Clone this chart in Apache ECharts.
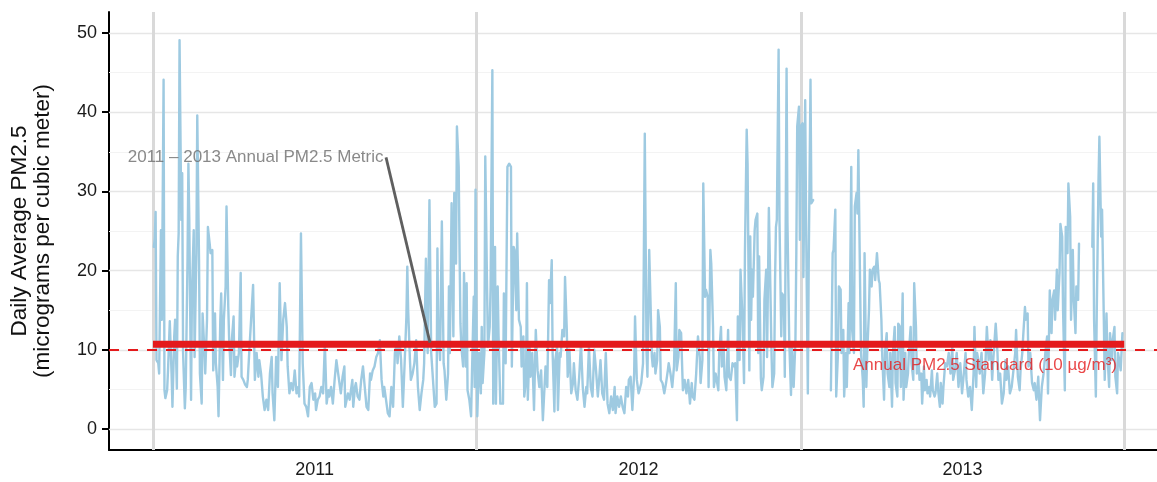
<!DOCTYPE html>
<html>
<head>
<meta charset="utf-8">
<script src="https://cdn.jsdelivr.net/npm/echarts@6/dist/echarts.min.js"></script>
<style>
html,body{margin:0;padding:0;background:#fff;}
#chart{width:1157px;height:482px;}
</style>
</head>
<body>
<div id="chart"></div>
<script>
// Daily average PM2.5, [day of year (0 = 1 January), µg/m³]; null marks a break in the record
const pm2011 = [
[1,23.0],[2,24.0],[3,27.4],[4,8.7],[6,8.3],[7,7.0],[9,25.1],[10,13.8],[12,44.1],[13,4.9],[14,3.9],[16,4.9],[17,7.4],[19,13.6],[21,7.0],[22,2.8],[24,11.7],[25,13.8],[27,5.1],[28,21.8],[29,24.7],[30,49.1],[32,26.4],[33,32.3],[34,9.6],[36,2.6],[37,5.3],[39,21.3],[40,33.5],[41,26.4],[43,3.7],[44,17.1],[46,25.1],[47,9.1],[49,22.2],[50,39.6],[52,21.3],[53,7.0],[55,3.2],[56,14.6],[58,10.0],[59,7.0],[61,13.8],[62,25.5],[64,23.4],[65,22.2],[67,22.6],[68,7.4],[70,14.6],[71,8.3],[73,5.3],[74,1.6],[76,13.8],[77,17.1],[79,6.2],[80,13.8],[82,18.0],[83,28.1],[85,15.4],[86,11.2],[88,6.8],[89,11.2],[91,14.2],[92,6.6],[94,9.1],[95,7.9],[97,9.6],[99,19.7],[100,6.6],[102,6.2],[104,5.6],[106,5.3],[107,6.2],
[109,10.4],[113,18.2],[115,6.2],[117,9.6],[119,6.6],[120,8.7],[122,7.0],[124,4.1],[126,2.4],[128,3.7],[130,2.4],[132,7.0],[134,9.1],[135,4.5],[137,1.1],[139,9.1],[141,5.3],[143,18.4],[145,8.7],[147,13.8],[149,15.9],[151,12.9],[152,7.9],[154,4.5],[156,5.8],[158,4.9],[160,7.4],[162,4.5],[164,5.3],[165,4.1],[167,24.7],[169,8.3],[171,3.2],[173,2.8],[175,1.6],[177,5.3],[179,5.8],[181,3.7],[183,4.5],[184,2.4],[186,3.7],[188,4.1],[190,5.3],[192,4.5],[194,10.8],[196,3.2],[198,4.9],[199,4.1],[201,5.3],[203,3.2],[205,6.2],[207,8.7],[209,7.0],[212,4.5],[214,6.6],[216,7.9],[217,2.8],[220,4.5],
[222,3.7],[225,6.2],[226,2.8],[228,5.3],[229,5.8],[231,4.1],[233,3.7],[235,6.2],[237,7.9],[239,5.3],[241,2.8],[243,2.4],[245,7.0],[246,6.2],[248,7.4],[250,7.9],[252,9.1],[254,9.6],[256,11.2],[258,6.2],[260,4.1],[261,5.3],[263,3.7],[265,2.0],[267,1.6],[269,5.3],[271,2.8],[273,9.6],[275,10.8],[276,8.3],[278,11.7],[280,8.7],[282,2.8],[284,8.3],[286,14.2],[287,20.5],[288,15.0],[290,8.7],[291,6.2],[293,7.0],[295,8.3],[297,11.2],[299,5.3],[301,2.4],[303,4.5],[305,6.2],[306,8.3],[308,21.5],[310,9.6],[312,28.9],[314,9.6],[316,6.2],[318,2.8],[320,3.2],[321,22.8],[322,12.1],[324,8.7],[326,26.2],[328,8.3],[329,7.4],[331,3.7],[333,7.0],[334,18.0],
[335,9.6],[337,28.5],[339,11.7],[340,29.8],[342,20.9],[343,38.2],[345,33.1],[346,22.2],[347,13.3],[348,10.4],[350,7.9],[351,19.7],[353,7.9],[354,18.4],[355,4.9],[357,3.7],[359,1.6],[360,7.0],[362,16.7],[363,5.3],[364,30.2]
];
const pm2012 = [
[1,1.6],[3,9.6],[5,4.5],[6,12.9],[7,5.8],[9,9.6],[10,34.4],[12,18.0],[13,10.4],[15,12.9],[16,18.0],[18,45.3],[19,3.2],[21,23.0],[22,3.2],[24,18.0],[25,11.7],[27,3.2],[28,3.2],[30,3.2],[31,17.1],[33,8.3],[35,33.1],[37,33.5],[39,33.1],[40,7.9],[42,23.0],[43,22.6],[45,15.0],[46,24.7],[48,13.8],[50,12.9],[51,7.9],[53,11.7],[54,4.1],[56,6.2],[57,18.4],[58,3.7],[60,10.4],[61,6.6],[63,9.6],[65,2.4],[67,12.5],[69,7.4],[71,5.3],[73,7.4],[75,1.1],[77,1.1],[78,7.9],[80,5.3],[82,18.8],
[83,15.9],[85,21.3],[86,9.6],[88,2.2],[89,8.7],[91,10.4],[92,2.4],[94,9.6],[95,9.1],[97,12.5],[99,11.7],[100,19.2],[102,12.5],[103,6.6],[105,10.0],[107,4.5],[109,5.8],[110,8.3],[112,4.9],[114,3.7],[116,6.6],[118,10.8],[120,5.3],[122,2.8],[124,5.3],[125,4.5],[127,10.4],[129,5.3],[131,4.1],[133,10.0],[135,7.4],[137,4.1],[139,7.0],[140,8.7],[142,4.5],[144,3.7],[146,9.6],[148,3.2],[150,2.0],[152,4.1],[154,2.4],[156,5.3],[157,2.0],[159,4.1],[161,2.8],[163,4.1],[165,2.8],[167,2.0],[169,5.3],[171,4.1],[172,6.2],[174,6.6],[176,2.4],[178,7.0],[179,14.2],[181,6.2],[183,4.5],[184,4.9],[186,5.8],[188,8.3],[190,37.3],[192,9.6],[193,6.6],[195,22.6],
[198,9.1],[199,7.9],[201,9.6],[202,7.0],[204,8.7],[205,15.0],[207,12.9],[208,6.2],[210,5.8],[212,4.5],[214,5.8],[216,7.4],[217,8.3],[219,7.0],[221,5.3],[223,7.9],[225,18.4],[226,7.4],[228,9.1],[229,12.5],[231,12.1],[233,4.9],[235,6.2],[237,4.5],[239,6.2],[241,3.2],[243,5.8],[244,4.1],[246,3.7],[248,7.0],[250,11.7],[252,9.1],[253,5.8],[255,8.7],[256,31.0],[258,16.7],[259,17.6],[261,16.7],[262,5.3],[264,22.6],[265,20.9],[267,12.9],[268,5.3],[270,7.0],[271,7.0],[273,4.9],[274,9.6],[276,12.9],[277,7.9],[279,10.4],[280,6.6],[282,4.9],[284,12.5],[285,6.6],[287,6.2],[289,8.3],[291,7.9],[292,8.3],[294,1.1],[295,14.2],[297,8.7],[298,20.1],[300,14.6],[302,5.8],[303,22.2],[305,37.8],[306,33.5],[308,7.4],
[309,24.3],[310,13.8],[311,20.1],[312,16.7],[314,25.1],[315,26.4],[317,27.2],[318,9.6],[319,21.8],[321,6.4],[322,4.9],[324,6.6],[325,16.3],[327,20.1],[328,9.1],[330,27.9],[331,22.2],[333,9.6],[334,5.3],[336,7.0],[337,18.8],[338,25.5],[339,26.4],[341,47.9],[342,26.4],[344,11.7],[345,17.1],[347,16.7],[348,6.6],[350,45.5],[351,26.0],[353,11.2],[355,4.3],[356,10.8],[358,5.3],[360,11.2],[361,22.2],[362,38.2],[364,40.7],[365,23.9]
];
const pm2013 = [
[0,38.2],[2,38.6],[3,19.2],[5,41.5],[6,26.4],[8,4.5],[9,20.9],[11,44.1],[12,28.5],[14,28.9],[24,null],[34,4.9],[36,22.2],[37,22.6],[39,27.7],[40,4.1],[42,9.6],[43,18.0],[45,17.6],[46,9.6],[48,12.5],[49,4.1],[51,9.6],[52,5.3],[54,15.9],
[55,9.6],[57,33.1],[58,12.5],[60,9.6],[61,28.1],[63,29.8],[64,27.2],[65,35.2],[67,18.0],[68,9.6],[70,6.2],[71,2.8],[72,22.2],[74,5.3],[75,9.6],[77,15.0],[78,20.1],[80,18.0],[81,20.1],[83,20.5],[84,18.8],[86,22.2],[88,18.8],[89,18.4],[91,13.8],[92,9.1],[94,3.7],[95,9.6],[97,12.1],[98,7.0],[100,5.3],[101,9.6],[103,2.8],[104,9.6],[106,12.9],[107,5.8],[109,4.1],[110,13.3],[112,12.9],[113,5.3],[115,17.1],[116,3.7],[118,9.6],[119,5.3],[121,7.0],[122,9.6],[124,12.9],[125,8.3],[127,6.2],[128,18.4],[130,12.9],[131,7.0],[133,8.7],[134,6.2],[136,7.0],[137,3.2],[139,7.9],[140,4.9],[142,6.2],[143,4.5],[145,5.3],[146,4.1],[148,7.4],[149,4.9],[151,4.1],[152,4.5],[154,7.0],[155,4.9],[157,2.8],[158,5.8],[160,3.2],[161,5.3],[163,8.3],[165,7.9],
[167,9.6],[169,7.0],[171,10.4],[172,6.2],[174,7.4],[176,9.6],[178,5.3],[180,8.3],[182,4.5],[184,7.0],[186,9.6],[187,6.2],[189,4.1],[191,5.3],[193,2.4],[195,7.0],[196,12.9],[198,5.3],[199,9.6],[201,8.3],[202,7.0],[204,9.6],[206,4.5],[208,7.0],[210,12.9],[212,8.7],[214,11.2],[216,6.2],[217,8.3],[219,11.7],[220,13.3],[222,9.6],[223,6.2],[225,7.0],[227,3.2],[229,4.5],[231,8.7],[232,6.2],[234,7.9],[236,4.5],[238,5.3],[240,7.4],[242,9.6],[243,12.5],[245,6.6],[247,4.9],[248,7.4],[250,9.6],[251,11.7],[253,15.4],[254,13.8],[256,14.6],[257,7.9],[259,9.6],[261,5.8],[263,4.9],[264,5.8],[266,3.7],[268,6.6],[270,1.1],[272,5.3],[274,7.0],[276,9.6],[278,11.7],
[279,4.5],[281,17.5],[283,12.1],[284,16.3],[286,17.5],[287,13.8],[289,20.1],[290,15.0],[292,19.7],[293,25.9],[295,24.3],[296,15.0],[298,4.9],[299,25.5],[301,22.2],[302,31.0],[304,26.8],[305,13.8],[307,22.6],[308,16.7],[310,12.1],[311,18.0],[313,16.3],[314,23.4],[320,null],[329,23.0],[330,31.0],[331,13.8],[333,4.1],[334,14.6],[336,31.4],[337,36.9],[339,24.3],[340,27.7],[342,13.8],[343,6.2],[345,14.6],[346,9.6],[348,5.3],[349,12.1],[351,8.7],[352,11.2],[354,12.9],[355,6.6],[357,4.5],[358,9.6],[360,8.3],[361,7.4],[363,12.1]
];

const years = ['2011', '2012', '2013'];
const yTicks = [0, 10, 20, 30, 40, 50];
const yMinor = [5, 15, 25, 35, 45];
const standard = 10;   // annual PM2.5 standard, µg/m³
const metric = 10.7;   // 2011–2013 annual PM2.5 metric, µg/m³

// Annotation anchors in data units: [days since 1 Jan 2011, µg/m³]
const metricNoteAt = [263, 34.3];
const metricNoteTip = [312.6, 10.9];
const standardNoteAt = [938.9, 8.1];

const FONT = "'Liberation Sans', Arial, Helvetica, sans-serif";
const DAY = 86400000;
const dayOffset = y => (Date.UTC(y, 0, 1) - Date.UTC(2011, 0, 1)) / DAY;
const yearStart = [2011, 2012, 2013, 2014].map(dayOffset);
const yearMid = years.map((_, i) => (yearStart[i] + yearStart[i + 1]) / 2);
const daily = [pm2011, pm2012, pm2013].flatMap((arr, i) =>
  arr.map(([d, v]) => [yearStart[i] + d, v]));

const chart = echarts.init(document.getElementById('chart'), null, { renderer: 'canvas' });

chart.setOption({
  animation: false,
  backgroundColor: '#ffffff',
  textStyle: { fontFamily: FONT },
  grid: { left: 109, right: 0, top: 12, bottom: 32, containLabel: false },
  xAxis: {
    type: 'value',
    min: -49.6,
    max: 1133,
    axisLine: { show: true, onZero: false, lineStyle: { color: '#000', width: 2 } },
    axisTick: { show: false },
    splitLine: { show: false },
    axisLabel: {
      customValues: yearMid,
      formatter: v => years[yearMid.indexOf(v)] || '',
      color: '#1a1a1a',
      fontSize: 18,
      fontFamily: FONT,
      margin: 11
    }
  },
  yAxis: {
    type: 'value',
    min: -2.65,
    max: 52.65,
    axisLine: { show: true, onZero: false, lineStyle: { color: '#000', width: 2 } },
    axisTick: { show: true, customValues: yTicks, length: 7, lineStyle: { color: '#000', width: 2 } },
    axisLabel: { customValues: yTicks, color: '#1a1a1a', fontSize: 18, fontFamily: FONT, margin: 12 },
    splitLine: { show: false }
  },
  graphic: [{
    type: 'text',
    x: 31.5,
    y: 231,
    rotation: Math.PI / 2,
    style: {
      text: 'Daily Average PM2.5\n(micrograms per cubic meter)',
      align: 'center',
      verticalAlign: 'middle',
      fontSize: 22.5,
      fontFamily: FONT,
      lineHeight: 23,
      fill: '#111111'
    }
  }],
  series: [
    {
      // background grid: minor and major horizontal lines, year boundaries
      type: 'line',
      data: [],
      z: 1,
      silent: true,
      markLine: {
        z: 1,
        silent: true,
        symbol: 'none',
        label: { show: false },
        emphasis: { disabled: true },
        data: [
          ...yMinor.map(v => ({ yAxis: v, lineStyle: { color: '#f3f3f3', width: 1, type: 'solid' } })),
          ...yTicks.map(v => ({ yAxis: v, lineStyle: { color: '#e6e6e6', width: 1.3, type: 'solid' } })),
          ...yearStart.map(d => ({ xAxis: d, lineStyle: { color: '#d9d9d9', width: 3, type: 'solid' } }))
        ]
      }
    },
    {
      name: 'Daily PM2.5',
      type: 'line',
      data: daily,
      z: 2,
      showSymbol: false,
      connectNulls: false,
      silent: true,
      lineStyle: { color: '#9ecae1', width: 2.4, join: 'round', cap: 'round' }
    },
    {
      // annual standard
      type: 'line',
      data: [],
      z: 3,
      silent: true,
      markLine: {
        z: 3,
        silent: true,
        symbol: 'none',
        label: { show: false },
        emphasis: { disabled: true },
        data: [{ yAxis: standard, lineStyle: { color: '#e41a1c', width: 2, type: [10, 9] } }]
      }
    },
    {
      // three-year metric
      type: 'line',
      data: [[yearStart[0], metric], [yearStart[3], metric]],
      z: 4,
      showSymbol: false,
      silent: true,
      lineStyle: { color: '#e41a1c', width: 7, cap: 'butt' }
    },
    {
      // leader from the metric note to the metric bar
      type: 'line',
      data: [metricNoteAt, metricNoteTip],
      z: 5,
      showSymbol: false,
      silent: true,
      lineStyle: { color: '#5f5f5f', width: 2.8, cap: 'butt' }
    },
    {
      type: 'scatter',
      z: 6,
      silent: true,
      symbolSize: 1,
      itemStyle: { color: 'transparent' },
      data: [
        {
          value: metricNoteAt,
          label: {
            show: true, position: 'left', distance: 2,
            formatter: '2011 – 2013 Annual PM2.5 Metric',
            color: '#6b6b6b', fontSize: 17, fontFamily: FONT
          }
        },
        {
          value: standardNoteAt,
          label: {
            show: true, position: 'inside',
            formatter: 'Annual PM2.5 Standard (' + standard + ' µg/m³)',
            color: '#e41a1c', fontSize: 17, fontFamily: FONT
          }
        }
      ]
    }
  ]
});
</script>
</body>
</html>
